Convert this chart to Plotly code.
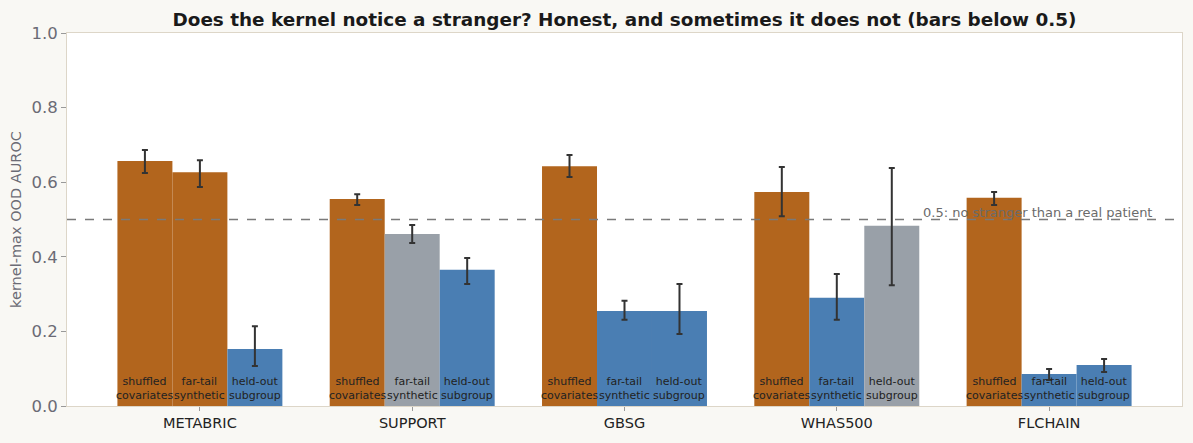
import plotly.graph_objects as go

datasets = ["METABRIC", "SUPPORT", "GBSG", "WHAS500", "FLCHAIN"]
conditions = ["shuffled<br>covariates", "far-tail<br>synthetic", "held-out<br>subgroup"]

shuffled = [0.657, 0.555, 0.643, 0.574, 0.558]
shuffled_lo = [0.625, 0.539, 0.614, 0.509, 0.539]
shuffled_hi = [0.686, 0.568, 0.673, 0.641, 0.574]

fartail = [0.627, 0.461, 0.255, 0.290, 0.086]
fartail_lo = [0.587, 0.437, 0.231, 0.231, 0.070]
fartail_hi = [0.659, 0.485, 0.282, 0.354, 0.099]

heldout = [0.153, 0.365, 0.255, 0.483, 0.110]
heldout_lo = [0.107, 0.327, 0.193, 0.324, 0.091]
heldout_hi = [0.214, 0.397, 0.327, 0.638, 0.126]

# verdict per bar: "above", "unclear", "below"
shuffled_verdict = ["above", "above", "above", "above", "above"]
fartail_verdict = ["above", "unclear", "below", "below", "below"]
heldout_verdict = ["below", "below", "below", "unclear", "below"]

COLORS = {"above": "#b2651d", "unclear": "#99a0a8", "below": "#4a7eb3"}

series = [
    (conditions[0], shuffled, shuffled_lo, shuffled_hi, shuffled_verdict),
    (conditions[1], fartail, fartail_lo, fartail_hi, fartail_verdict),
    (conditions[2], heldout, heldout_lo, heldout_hi, heldout_verdict),
]

BAR_W = 0.259
fig = go.Figure()
for name, vals, lo, hi, verd in series:
    fig.add_trace(go.Bar(
        x=datasets, y=vals, name=name.replace("<br>", " "),
        marker=dict(color=[COLORS[v] for v in verd], line=dict(width=0)),
        error_y=dict(type="data", symmetric=False,
                     array=[h - v for h, v in zip(hi, vals)],
                     arrayminus=[v - l for v, l in zip(vals, lo)],
                     color="#333333", thickness=2, width=3),
        showlegend=False,
    ))

annotations = []
for j, (name, *_rest) in enumerate(series):
    off = (j - 1) * BAR_W
    for i in range(len(datasets)):
        annotations.append(dict(
            x=i + off, y=0, xref="x", yref="y", text=name,
            showarrow=False, yanchor="bottom", yshift=2,
            font=dict(size=11, color="#222222", family="DejaVu Sans"),
        ))

annotations.append(dict(
    x=0.975, y=0.5, xref="paper", yref="y", xanchor="right", yanchor="bottom",
    text="0.5: no stranger than a real patient", showarrow=False, yshift=-2,
    font=dict(size=13, color="#6b6b6b", family="DejaVu Sans"),
))

fig.add_shape(type="line", xref="paper", yref="y", x0=0, x1=1, y0=0.5, y1=0.5,
              line=dict(color="#7a7a7a", width=1.5, dash="dash"))

fig.update_layout(
    width=1193, height=443,
    margin=dict(l=67, r=11, t=33, b=37),
    paper_bgcolor="#f9f8f4", plot_bgcolor="#ffffff",
    barmode="group", bargap=0.223, bargroupgap=0,
    title=dict(text="<b>Does the kernel notice a stranger? Honest, and sometimes it does not (bars below 0.5)</b>",
               x=0.5, xref="paper", xanchor="center", y=0.955, yanchor="middle",
               font=dict(size=18.4, color="#1a1a1a", family="DejaVu Sans")),
    font=dict(family="DejaVu Sans"),
    annotations=annotations,
)
fig.update_xaxes(range=[-0.626, 4.626], showline=True, mirror=True, linecolor="#ddd6c8",
                 linewidth=1, ticks="outside", ticklen=4, tickcolor="#999999",
                 tickfont=dict(size=14.5, color="#222222"), showgrid=False)
fig.update_yaxes(range=[0, 1], dtick=0.2, tickformat=".1f", showline=True, mirror=True,
                 linecolor="#ddd6c8", linewidth=1, ticks="outside", ticklen=5,
                 tickcolor="#999999", tickfont=dict(size=16.5, color="#6b6b75"),
                 showgrid=False, zeroline=False,
                 title=dict(text="kernel-max OOD AUROC", standoff=6,
                            font=dict(size=14.5, color="#6b6b75")))

fig.write_html("out.html")
